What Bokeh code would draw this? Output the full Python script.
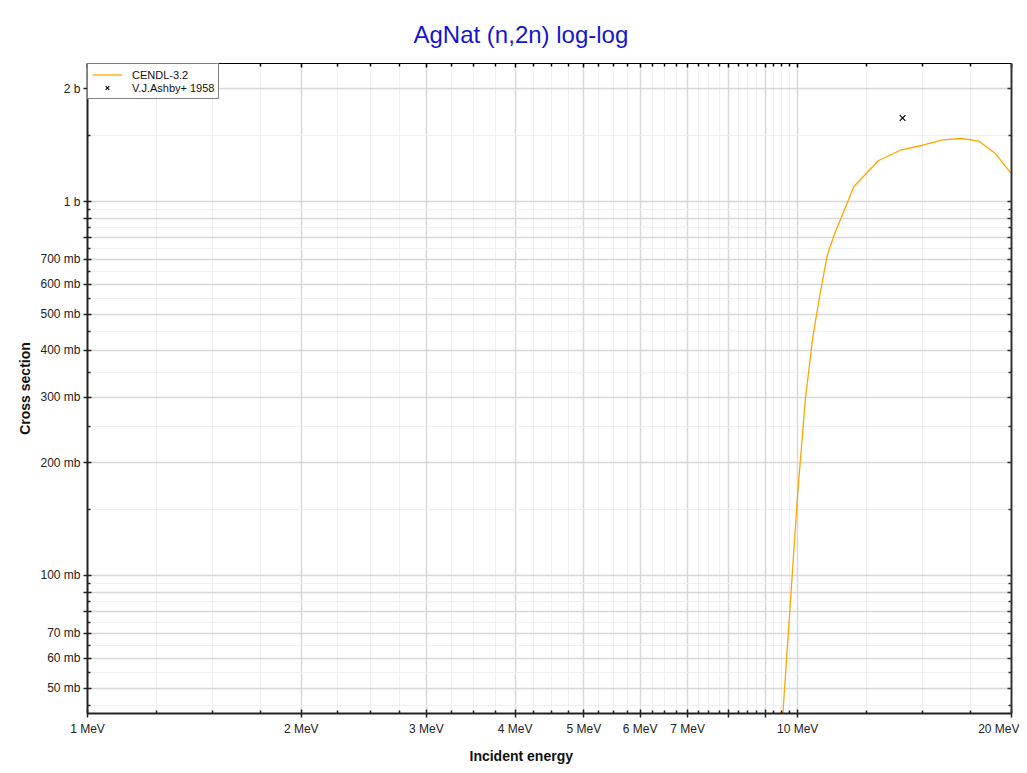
from bokeh.plotting import figure
from bokeh.models import FixedTicker, LogAxis, Legend, LegendItem, Range1d, Title
from bokeh.embed import file_html
from bokeh.resources import INLINE

# ---- data ----
cendl_energy_mev = [9.25, 9.5, 9.75, 10.0, 10.25, 10.5, 10.75, 11.0, 11.25, 12.0, 13.0, 14.0, 15.0, 16.0, 17.0, 18.0, 19.0, 20.0]
cendl_xs_mb = [12, 39, 81, 166, 295, 433, 565, 715, 812, 1097, 1287, 1375, 1414, 1462, 1474, 1450, 1341, 1186]

ashby_energy_mev = [14.05]
ashby_xs_mb = [1672]

x_major_ticks = [1, 2, 3, 4, 5, 6, 7, 8, 9, 10, 20]
x_tick_labels = ["1 MeV", "2 MeV", "3 MeV", "4 MeV", "5 MeV", "6 MeV", "7 MeV", "", "", "10 MeV", "20 MeV"]
x_minor_ticks = [1.25, 1.5, 1.75, 2.25, 2.5, 2.75, 3.25, 3.5, 3.75, 4.25, 4.5, 4.75,
                 5.25, 5.5, 5.75, 6.25, 6.5, 6.75, 7.25, 7.5, 7.75, 8.25, 8.5, 8.75,
                 9.25, 9.5, 9.75, 12.5, 15, 17.5]

y_major_ticks = [40, 50, 60, 70, 80, 90, 100, 200, 300, 400, 500, 600, 700, 800, 900, 1000, 2000]
y_tick_labels = ["", "50 mb", "60 mb", "70 mb", "", "", "100 mb", "200 mb", "300 mb", "400 mb",
                 "500 mb", "600 mb", "700 mb", "", "", "1 b", "2 b"]
y_minor_ticks = [45, 55, 65, 75, 85, 95, 150, 250, 350, 450, 550, 650, 750, 850, 950, 1500]

MAIN_FONT = "Liberation Sans"

p = figure(width=1019, height=770, x_axis_type="log", y_axis_type="log",
           x_range=Range1d(1, 20), y_range=Range1d(42.75, 2339),
           output_backend="svg", toolbar_location=None,
           min_border_left=87, min_border_right=8, min_border_top=63, min_border_bottom=57,
           title="AgNat (n,2n) log-log")
p.outline_line_color = None
p.background_fill_color = "white"
p.border_fill_color = "white"

p.title.align = "left"
p.title.offset = 326
p.title.standoff = 32
p.title.text_font = MAIN_FONT
p.title.text_font_size = "24px"
p.title.text_font_style = "normal"
p.title.text_color = "#1515d0"

xt = FixedTicker(ticks=x_major_ticks, minor_ticks=x_minor_ticks)
yt = FixedTicker(ticks=y_major_ticks, minor_ticks=y_minor_ticks)

def style_main(ax, ticker, labels, ticks):
    ax.ticker = ticker
    ax.major_label_overrides = {t: l for t, l in zip(ticks, labels)}
    ax.axis_line_color = "#222222"
    ax.axis_line_width = 2
    ax.major_tick_line_color = "#222222"
    ax.major_tick_line_width = 1.5
    ax.minor_tick_line_color = "#222222"
    ax.minor_tick_line_width = 1.5
    ax.major_tick_in = 4
    ax.major_tick_out = 4
    ax.minor_tick_in = 3
    ax.minor_tick_out = 0
    ax.major_label_text_font = MAIN_FONT
    ax.major_label_text_font_size = "12px"
    ax.major_label_text_color = "#222222"
    ax.axis_label_text_font = MAIN_FONT
    ax.axis_label_text_font_size = "14px"
    ax.axis_label_text_font_style = "bold"
    ax.axis_label_text_color = "#111111"

xa = p.xaxis[0]
ya = p.yaxis[0]
style_main(xa, xt, x_tick_labels, x_major_ticks)
style_main(ya, yt, y_tick_labels, y_major_ticks)
ya.axis_label = "Cross section"
xa.major_label_standoff = 4
ya.major_label_standoff = 3
ya.axis_label_standoff = 4

# x-axis title placed under the axis, centred on the page like the original
x_title = Title(text="Incident energy", align="left", offset=382, standoff=14,
                text_font=MAIN_FONT, text_font_size="14px", text_font_style="bold",
                text_color="#111111")
p.add_layout(x_title, "below")

def style_mirror(ax, ticker, color, width):
    ax.ticker = ticker
    ax.axis_line_color = color
    ax.axis_line_width = width
    ax.major_tick_line_color = color
    ax.minor_tick_line_color = color
    ax.major_tick_line_width = 1.5
    ax.minor_tick_line_width = 1.5
    ax.major_tick_in = 4
    ax.major_tick_out = 0
    ax.minor_tick_in = 3
    ax.minor_tick_out = 0
    ax.major_label_text_font_size = "0px"
    ax.major_label_standoff = 0
    ax.major_label_text_alpha = 0

top_axis = LogAxis()
style_mirror(top_axis, xt, "#000000", 1)
p.add_layout(top_axis, "above")
right_axis = LogAxis()
style_mirror(right_axis, yt, "#333333", 2)
p.add_layout(right_axis, "right")

for g in (p.xgrid[0], p.ygrid[0]):
    g.grid_line_color = "#d8d8d8"
    g.grid_line_width = 1.5
    g.minor_grid_line_color = "#f0f0f0"
    g.minor_grid_line_width = 1

line_r = p.line(cendl_energy_mev, cendl_xs_mb, line_color="#ffa500", line_width=1.3)
pts_r = p.scatter(ashby_energy_mev, ashby_xs_mb, marker="x", size=8, line_color="black", line_width=1.2)

legend = Legend(items=[LegendItem(label="CENDL-3.2", renderers=[line_r]),
                       LegendItem(label="V.J.Ashby+ 1958", renderers=[pts_r])],
                location="top_left", margin=0, padding=4, spacing=0,
                label_height=13, glyph_height=13, glyph_width=30, label_standoff=10,
                border_line_color="black", border_line_width=1,
                background_fill_color="white", background_fill_alpha=1,
                label_text_font=MAIN_FONT, label_text_font_size="11px",
                label_text_color="#111111")
p.add_layout(legend, "center")

open("out.html", "w").write(file_html(p, INLINE))
